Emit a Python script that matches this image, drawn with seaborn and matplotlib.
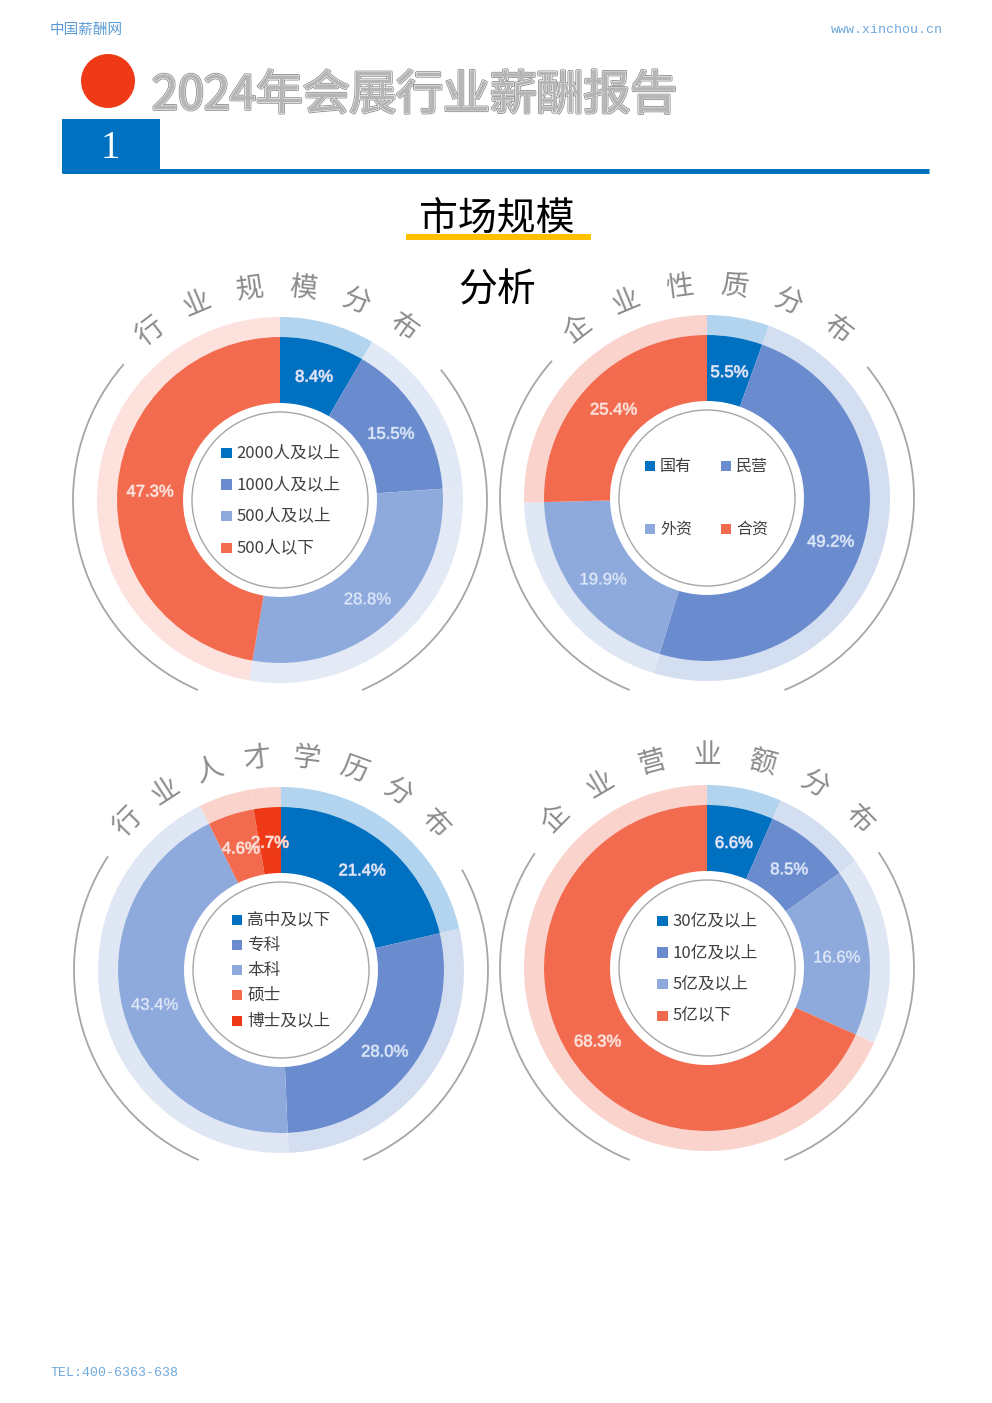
import numpy as np
import matplotlib
matplotlib.use("Agg")
import matplotlib.pyplot as plt
import matplotlib.patheffects as pe
from matplotlib.patches import Arc, Circle, Rectangle
import seaborn as sns

W, H = 992, 1403

# chart data
size_labels = ["2000人及以上", "1000人及以上", "500人及以上", "500人以下"]
size_values = [8.4, 15.5, 28.8, 47.3]

type_labels = ["国有", "民营", "外资", "合资"]
type_values = [5.5, 49.2, 19.9, 25.4]

edu_labels = ["高中及以下", "专科", "本科", "硕士", "博士及以上"]
edu_values = [21.4, 28.0, 43.4, 4.6, 2.7]

rev_labels = ["30亿及以上", "10亿及以上", "5亿及以上", "5亿以下"]
rev_values = [6.6, 8.5, 16.6, 68.3]

chart_titles = ["行业规模分布", "企业性质分布", "行业人才学历分布", "企业营业额分布"]

# colours
DARK, MID, LIGHT, ORANGE, RED = "#0070C0", "#6A8CCF", "#8EA9DB", "#F26B4F", "#EE3A16"
DARK_O, MID_O, LIGHT_O, ORANGE_O = "#B3D4EE", "#D4DEF1", "#DFE7F5", "#F9D3CC"

sns.set_theme(style="white")
plt.rcParams["font.family"] = ["Noto Sans CJK SC", "DejaVu Sans"]

fig = plt.figure(figsize=(W / 100, H / 100), dpi=100)
ax = fig.add_axes([0, 0, 1, 1])


def Y(y):
    return H - y


def donut(cx, cy, values, labels, colors, outer_colors, title, a_text, a_arc,
          cut, legend_pos, legend_fs=12):
    c = (cx, Y(cy))
    ax.pie(values, radius=183, center=c, startangle=90, counterclock=False,
           colors=outer_colors, wedgeprops=dict(width=20, linewidth=0))
    it = iter(f"{v:.1f}%" for v in values)
    w, t, at = ax.pie(values, radius=163, center=c, startangle=90,
                      counterclock=False, colors=colors,
                      wedgeprops=dict(width=66, linewidth=0),
                      autopct=lambda p: next(it), pctdistance=0.8)
    for a, col in zip(at, colors):
        warm = col in (ORANGE, RED)
        fill = "#FDE6E1" if warm else "#E2EAF8"
        edge = "#F9B2A3" if warm else "#A3BCE6"
        a.set(color=fill, fontsize=12, family="Liberation Sans")
        a.set_path_effects([pe.withStroke(linewidth=0.8, foreground=edge)])
        x, y = a.get_position()
        a.set_position((x, y - 3))
    # thin grey ring inside the hole
    ax.add_patch(Circle(c, 88, fill=False, ec="#A6A6A6", lw=1.0, zorder=3))
    # outer grey arc, clipped at the bottom
    r = 207
    d = cut - cy
    delta = np.degrees(np.arccos(min(d / r, 1.0)))
    for t1, t2 in [(a_arc[0], 270 - delta), (270 + delta, a_arc[1] + 360)]:
        ax.add_patch(Arc(c, 2 * r, 2 * r, theta1=t1, theta2=t2,
                         ec="#A6A6A6", lw=1.3, zorder=3))
    # curved title
    angs = np.linspace(a_text[0], a_text[1], len(title))
    for ch, ang in zip(title, angs):
        rad = np.radians(ang)
        ax.text(cx + 213 * np.cos(rad), Y(cy) + 213 * np.sin(rad), ch,
                rotation=ang - 90, ha="center", va="center", fontsize=20,
                color="#8C8C8C", rotation_mode="anchor")
    # legend squares and labels
    xs = [p[0] for p in legend_pos]
    ys = [Y(p[1]) for p in legend_pos]
    sns.scatterplot(x=xs, y=ys, hue=labels, palette=colors, marker="s", s=62,
                    linewidth=0, legend=False, ax=ax, zorder=4)
    for (x, y), lab in zip(legend_pos, labels):
        ax.text(x + 10, Y(y), lab, ha="left", va="center", fontsize=legend_fs,
                color="#404040")


donut(280, 500, size_values, size_labels, [DARK, MID, LIGHT, ORANGE],
      [DARK_O, "#E1E8F6", "#E3EAF6", "#FCE1DD"], chart_titles[0],
      (127.5, 54.5), (139, 39), 690,
      [(226.5, 453), (226.5, 484.5), (226.5, 516), (226.5, 548)])

donut(707, 498, type_values, type_labels, [DARK, MID, LIGHT, ORANGE],
      [DARK_O, MID_O, LIGHT_O, ORANGE_O], chart_titles[1],
      (127.5, 52.4), (138.5, 39.3), 690,
      [(650, 466), (726, 466), (650, 529), (726, 529)], legend_fs=11.5)

donut(281, 970, edu_values, edu_labels, [DARK, MID, LIGHT, ORANGE, RED],
      [DARK_O, MID_O, LIGHT_O, ORANGE_O, ORANGE_O], chart_titles[2],
      (136, 43.6), (146.7, 29), 1160,
      [(237, 920), (237, 945), (237, 970), (237, 995), (237, 1021)])

donut(707, 968, rev_values, rev_labels, [DARK, MID, LIGHT, ORANGE],
      [DARK_O, MID_O, LIGHT_O, ORANGE_O], chart_titles[3],
      (135.4, 44.4), (146.3, 34), 1160,
      [(662.5, 921), (662.5, 952.5), (662.5, 984), (662.5, 1016)])

# page header
ax.text(50, Y(30), "中国薪酬网", ha="left", va="center", fontsize=10.5, color="#5B9BD5")
ax.text(943, Y(30), "www.xinchou.cn", ha="right", va="center", fontsize=9.5,
        color="#6FA8DC", family="Liberation Mono")
ax.add_patch(Circle((108, Y(81)), 27, color="#F03A17", lw=0))
ax.text(152, Y(96), "2024年会展行业薪酬报告", ha="left", va="center", fontsize=33.7,
        color="#B5B5B5",
        path_effects=[pe.withStroke(linewidth=2.2, foreground="#8C8C8C"),
                      pe.withStroke(linewidth=1.0, foreground="white"),
                      pe.Normal()])
ax.add_patch(Rectangle((62, Y(173)), 98, 54, color="#0070C0", lw=0))
ax.plot([62, 929], [Y(171), Y(171)], color="#0070C0", lw=3.6, solid_capstyle="butt")
ax.text(110, Y(148), "1", ha="center", va="center", fontsize=28, color="white",
        family="Liberation Serif")

# section title
ax.add_patch(Rectangle((406, Y(240)), 185, 6, color="#FFC000", lw=0, zorder=1))
ax.text(497, Y(219), "市场规模", ha="center", va="center", fontsize=28,
        color="black", zorder=2)
ax.text(497, Y(290), "分析", ha="center", va="center", fontsize=28, color="black")

# footer
ax.text(50, Y(1373), "TEL:400-6363-638", ha="left", va="center", fontsize=9.5,
        color="#6FA8DC", family="Liberation Mono")

ax.set_xlim(0, W)
ax.set_ylim(0, H)
ax.set_aspect("equal")
ax.axis("off")
fig.savefig("out.png", dpi=100, facecolor="white")
